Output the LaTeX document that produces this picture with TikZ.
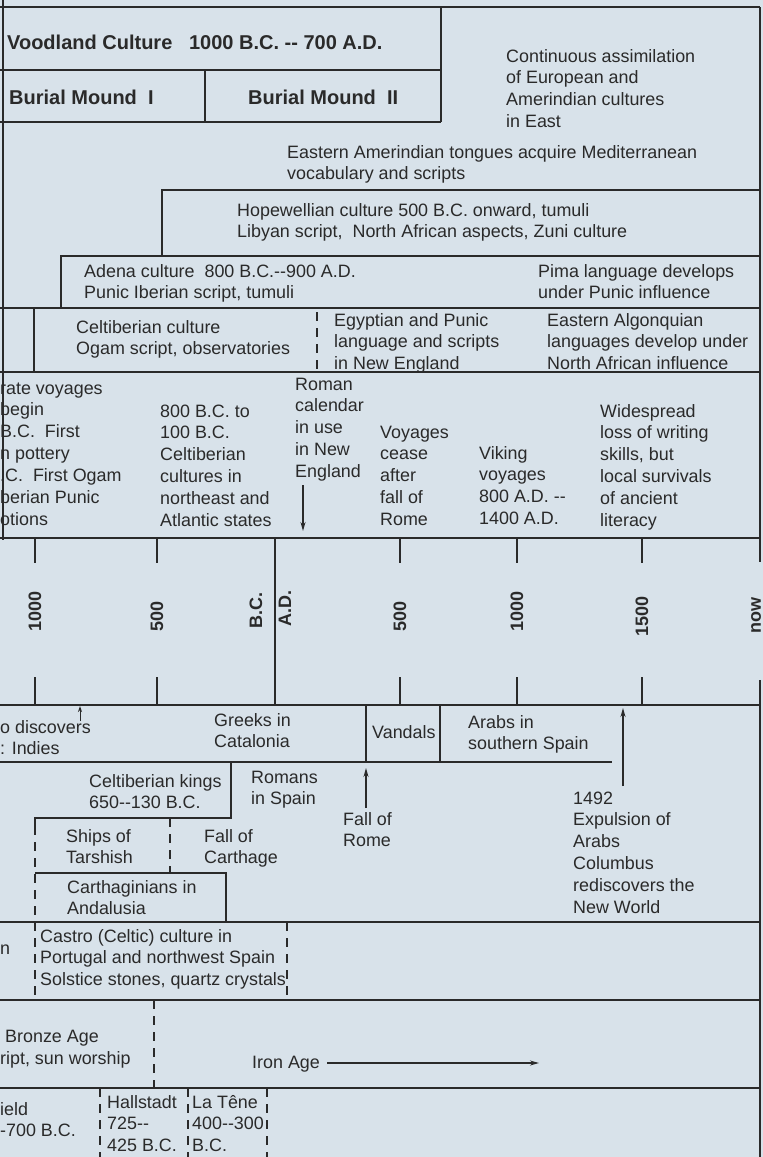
\documentclass[tikz,border=0pt]{standalone}
\usepackage{fontspec}
\setmainfont{Liberation Sans}
\usetikzlibrary{arrows.meta}
\definecolor{bg}{HTML}{D8E2EA}
\definecolor{ink}{HTML}{2A2A2A}
\newcommand\dd{-{}-}
\newcommand\ml[1]{\begin{tabular}[t]{@{}l@{}}#1\end{tabular}}
\begin{document}
\begin{tikzpicture}[x=1pt,y=-1pt,
  ln/.style={draw=ink,line width=1.8pt},
  tick/.style={draw=ink,line width=1.8pt},
  dsh/.style={draw=ink,line width=1.6pt,dash pattern=on 9pt off 7pt},
  txt/.style={anchor=base west,inner sep=0pt,text=ink,font=\fontsize{17.9}{21.9}\selectfont},
  btxt/.style={anchor=base west,inner sep=0pt,text=ink,font=\fontsize{20}{24}\selectfont\bfseries},
  ax/.style={anchor=west,inner sep=0pt,rotate=90,text=ink,font=\fontsize{18}{20}\selectfont\bfseries},
  arr/.style={draw=ink,line width=1.4pt,-{Stealth[length=9pt,width=5pt]}}]
\fill[bg] (0,0) rectangle (763,1157);
\useasboundingbox (0,0) rectangle (763,1157);
\begin{scope}
\clip (0,0) rectangle (763,1157);
% ---------- frame lines ----------
\draw[ln] (0,7) -- (760,7);
\draw[ln] (3,0) -- (3,540);
\draw[ln] (760,7) -- (760,562);
\draw[ln] (760,680) -- (760,1160);
% North America upper rows
\draw[ln] (0,70) -- (441,70);
\draw[ln] (0,122) -- (441,122);
\draw[ln] (441,7) -- (441,122);
\draw[ln] (205,70) -- (205,122);
\draw[ln] (162,256) -- (162,190) -- (760,190);
\draw[ln] (61,308) -- (61,256) -- (760,256);
\draw[ln] (0,308) -- (760,308);
\draw[ln] (34,308) -- (34,372);
\draw[dsh] (317,312) -- (317,372);
\draw[ln] (0,372) -- (760,372);
% axis
\draw[ln] (0,538) -- (760,538);
\draw[ln] (0,705) -- (760,705);
\draw[ln] (275,538) -- (275,705);
\foreach \x in {35,157,400,517,642}{
  \draw[tick] (\x,538) -- (\x,563);
  \draw[tick] (\x,677) -- (\x,705);
}
% Spain rows
\draw[ln] (366,705) -- (366,762);
\draw[ln] (440,705) -- (440,762);
\draw[ln] (0,762) -- (612,762);
\draw[ln] (231,762) -- (231,818) -- (35,818) -- (35,826);
\draw[dsh] (35,826) -- (35,1000);
\draw[dsh] (170,818) -- (170,873);
\draw[ln] (35,873) -- (226,873) -- (226,922);
\draw[ln] (0,922) -- (760,922);
\draw[dsh] (287,922) -- (287,1000);
\draw[ln] (0,1000) -- (760,1000);
\draw[dsh] (154,1000) -- (154,1088);
\draw[ln] (0,1088) -- (760,1088);
\draw[dsh] (100,1088) -- (100,1160);
\draw[dsh] (188,1088) -- (188,1160);
\draw[dsh] (267,1088) -- (267,1160);
% ---------- texts ----------
\node[btxt] (wood) at (7,49) {Voodland Culture\ \ \ 1000 B.C. \dd\ 700 A.D.};
\node[btxt] (bm1) at (9,104) {Burial Mound\ \ I};
\node[btxt] (bm2) at (248,104) {Burial Mound\ \ II};
\node[txt] (cont) at (506,62) {\ml{Continuous assimilation\\of European and\\Amerindian cultures\\in East}};
\node[txt] (east) at (287,158) {\ml{Eastern Amerindian tongues acquire Mediterranean\\vocabulary and scripts}};
\node[txt] (hope) at (237,216) {\ml{Hopewellian culture 500 B.C. onward, tumuli\\Libyan script,\ \ North African aspects, Zuni culture}};
\node[txt] (adena) at (84,277) {\ml{Adena culture\ \ 800 B.C.\dd900 A.D.\\Punic Iberian script, tumuli}};
\node[txt] (pima) at (538,277) {\ml{Pima language develops\\under Punic influence}};
\node[txt] (celt) at (76,333) {\ml{Celtiberian culture\\Ogam script, observatories}};
\node[txt] (egypt) at (334,326) {\ml{Egyptian and Punic\\language and scripts\\in New England}};
\node[txt] (algon) at (547,326) {\ml{Eastern Algonquian\\languages develop under\\North African influence}};
% voyages row
\node[txt] (leftcol) at (0,394) {\ml{rate voyages\\begin\\B.C.\ \ First\\n pottery\\.C.\ \ First Ogam\\berian Punic\\otions}};
\node[txt] (bc800) at (160,417) {\ml{800 B.C. to\\100 B.C.\\Celtiberian\\cultures in\\northeast and\\Atlantic states}};
\node[txt] (roman) at (295,390) {\ml{Roman\\calendar\\in use\\in New\\England}};
\coordinate (romanA) at (303,485);
\coordinate (romanB) at (303,531);
\draw[arr] (romanA) -- (romanB);
\node[txt] (cease) at (380,438) {\ml{Voyages\\cease\\after\\fall of\\Rome}};
\node[txt] (viking) at (479,459) {\ml{Viking\\voyages\\800 A.D. \dd\\1400 A.D.}};
\node[txt] (wide) at (600,417) {\ml{Widespread\\loss of writing\\skills, but\\local survivals\\of ancient\\literacy}};
% axis labels
\node[ax] (t1) at (35,632) {1000};
\node[ax] (t2) at (157,632) {500};
\node[ax] (tbc) at (256,629) {B.C.};
\node[ax] (tad) at (285,627) {A.D.};
\node[ax] (t3) at (400,632) {500};
\node[ax] (t4) at (517,632) {1000};
\node[ax] (t5) at (642,637) {1500};
\node[ax] (tnow) at (756,634) {now};
% Spain
\node[txt] (disc) at (0,733) {\ml{o discovers\\: Indies}};
\coordinate (discA) at (80,721);
\coordinate (discB) at (80,706);
\draw[draw=ink,line width=1pt,-{Stealth[length=6pt,width=4pt]}] (discA) -- (discB);
\node[txt] (greek) at (214,726) {\ml{Greeks in\\Catalonia}};
\node[txt] (vand) at (372,738) {Vandals};
\node[txt] (arab) at (468,728) {\ml{Arabs in\\southern Spain}};
\node[txt] (kings) at (89,787) {\ml{Celtiberian kings\\650\dd130 B.C.}};
\node[txt] (romans) at (251,783) {\ml{Romans\\in Spain}};
\node[txt] (frome) at (343,825) {\ml{Fall of\\Rome}};
\coordinate (fromeA) at (366,808);
\coordinate (fromeB) at (366,768);
\draw[arr] (fromeA) -- (fromeB);
\node[txt] (ships) at (66,842) {\ml{Ships of\\Tarshish}};
\node[txt] (fcarth) at (204,842) {\ml{Fall of\\Carthage}};
\node[txt] (carthag) at (67,893) {\ml{Carthaginians in\\Andalusia}};
\node[txt] (expul) at (573,804) {\ml{1492\\Expulsion of\\Arabs\\Columbus\\rediscovers the\\New World}};
\coordinate (expA) at (623,786);
\coordinate (expB) at (623,708);
\draw[arr] (expA) -- (expB);
\node[txt] (castro) at (40,942) {\ml{Castro (Celtic) culture in\\Portugal and northwest Spain\\Solstice stones, quartz crystals}};
\node[txt] (nn) at (0,954) {n};
\node[txt] (bronze) at (5,1042) {Bronze Age};
\node[txt] (ript) at (0,1064) {ript, sun worship};
\node[txt] (iron) at (252,1068) {Iron Age};
\coordinate (ironA) at (327,1063);
\coordinate (ironB) at (539,1063);
\draw[arr] (ironA) -- (ironB);
\node[txt] (ield) at (0,1115) {\ml{ield\\-700 B.C.}};
\node[txt] (hall) at (107,1108) {\ml{Hallstadt\\725\dd\\425 B.C.}};
\node[txt] (tene) at (192,1108) {\ml{La Têne\\400\dd300\\B.C.}};
\end{scope}
\end{tikzpicture}
\end{document}
